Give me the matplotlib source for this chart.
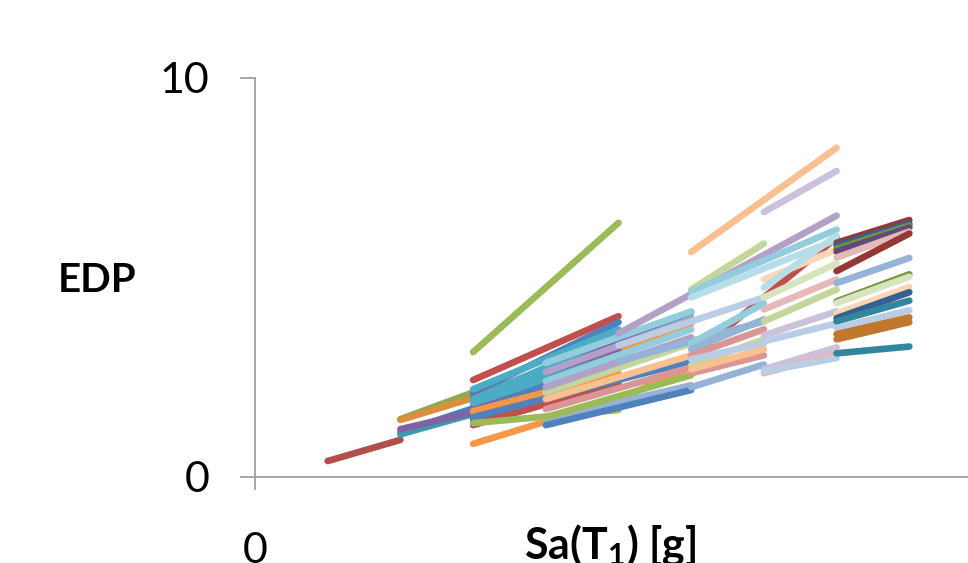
import matplotlib
matplotlib.use("Agg")
import matplotlib.pyplot as plt

plt.rcParams["font.family"] = ["Lato", "DejaVu Sans"]
plt.rcParams["mathtext.fontset"] = "custom"
plt.rcParams["mathtext.rm"] = "Lato"
plt.rcParams["mathtext.bf"] = "Lato:bold"

# Excel-2007 палитра (основные, тёмные, светлые, очень светлые оттенки)
B, R, G, P, A, O = "#4F81BD", "#C0504D", "#9BBB59", "#8064A2", "#4BACC6", "#F79646"
DB, DR, DG, DP, DA, DO = "#376092", "#953735", "#77933C", "#604A7B", "#31859C", "#C0782E"
LB, LR, LG, LP, LA, LO = "#95B3D7", "#D99694", "#C3D69B", "#B2A1C7", "#93CDDD", "#FAC090"
LLB, LLR, LLG, LLP, LLA, LLO = "#B9CDE5", "#E6B9B8", "#D7E4BD", "#CCC1DA", "#B7DEE8", "#FCD5B5"

# IDA-кривые: Sa(T1) [g] -> EDP
series_sa = [
    [0.1, 0.2],
    [0.2, 0.3], [0.2, 0.3], [0.2, 0.3], [0.2, 0.3], [0.2, 0.3],
    [0.6, 0.8],
    [0.3, 0.5], [0.3, 0.5], [0.3, 0.5], [0.3, 0.6], [0.3, 0.6], [0.3, 0.6],
    [0.3, 0.5], [0.3, 0.5], [0.3, 0.5], [0.3, 0.5], [0.3, 0.5], [0.3, 0.5],
    [0.3, 0.5], [0.3, 0.5], [0.3, 0.5], [0.3, 0.5], [0.3, 0.6],
    [0.3, 0.5], [0.3, 0.5, 0.6],
    [0.4, 0.6], [0.4, 0.6], [0.4, 0.6], [0.4, 0.6], [0.4, 0.6], [0.4, 0.6],
    [0.4, 0.6], [0.4, 0.6], [0.4, 0.6], [0.4, 0.6],
    [0.5, 0.8], [0.5, 0.7], [0.5, 0.7],
    [0.6, 0.7], [0.6, 0.7], [0.6, 0.7], [0.6, 0.7], [0.6, 0.7], [0.6, 0.7],
    [0.6, 0.7], [0.6, 0.7],
    [0.6, 0.8], [0.6, 0.7], [0.6, 0.8], [0.6, 0.8],
    [0.7, 0.8], [0.7, 0.8], [0.7, 0.8], [0.7, 0.8], [0.7, 0.8], [0.7, 0.8],
    [0.7, 0.8], [0.7, 0.8], [0.7, 0.8], [0.7, 0.8], [0.7, 0.8],
    [0.8, 0.9], [0.8, 0.9], [0.8, 0.9], [0.8, 0.9], [0.8, 0.9], [0.8, 0.9],
    [0.8, 0.9], [0.8, 0.9], [0.8, 0.9], [0.8, 0.9], [0.8, 0.9], [0.8, 0.9],
    [0.8, 0.9], [0.8, 0.9], [0.8, 0.9], [0.8, 0.9],
]
series_edp = [
    [0.40, 0.93],
    [1.45, 2.12], [1.43, 1.98], [1.12, 1.72], [1.07, 1.58], [1.20, 1.62],
    [3.00, 6.00],
    [3.13, 6.37], [2.43, 4.03], [2.10, 3.88], [2.00, 4.13], [1.90, 3.98], [1.70, 3.85],
    [1.95, 3.55], [1.75, 3.15], [1.55, 2.85], [1.40, 2.55], [1.85, 3.05], [1.30, 2.35],
    [2.20, 3.70], [1.60, 3.00], [1.45, 2.75], [1.65, 2.60], [1.50, 2.90],
    [1.35, 1.68], [0.83, 1.95, 2.75],
    [2.86, 4.15], [2.63, 3.95], [2.40, 3.70], [2.12, 3.35], [1.95, 3.05], [1.70, 2.75],
    [1.45, 2.30], [1.50, 2.55], [1.30, 2.18], [2.25, 3.50],
    [3.60, 6.55], [3.30, 4.50], [2.90, 3.90],
    [3.35, 4.35], [3.20, 3.95], [3.05, 3.70], [2.80, 3.45], [2.60, 3.05], [2.25, 2.82],
    [2.95, 3.35], [2.70, 3.20],
    [5.64, 8.25], [4.70, 5.85], [4.65, 6.20], [4.50, 5.95],
    [6.64, 7.67], [4.95, 5.70], [4.50, 5.35], [4.20, 4.95], [3.90, 4.70], [3.55, 4.15],
    [3.40, 3.85], [2.70, 3.25], [2.60, 3.10], [2.65, 2.98], [4.75, 6.05],
    [5.87, 6.44], [5.80, 6.35], [5.72, 6.30], [5.65, 6.25], [5.50, 6.15], [5.16, 6.10],
    [4.86, 5.49], [4.40, 5.08], [4.36, 5.02], [4.10, 4.76], [3.98, 4.63], [3.90, 4.42],
    [3.73, 4.18], [3.58, 4.00], [3.45, 3.88], [3.10, 3.27],
]
series_color = [
    "#B14E49",
    "#8FAA52", "#D98F3D", "#4A7EBB", "#3B9AB0", P,
    R,
    G, R, B, P, A, O,
    A, P, B, R, A, R,
    A, B, P, O, B,
    G, O,
    LA, LP, LA, LG, LO, LR,
    LB, G, B, LP,
    LP, LLB, LB,
    LA, LB, LR, LG, LR, LB,
    LLB, LO,
    LO, LG, LA, LLA,
    LLP, LLO, LLG, LLR, LG, LLP,
    LLB, LLP, LLR, LLB, LLA,
    DR, DB, DG, DP, LLR, DR,
    LB, DG, LLG, LLO, DB, DA,
    LLB, DO, DO, DA,
]

W, H = 968, 563
fig = plt.figure(figsize=(W / 100, H / 100), dpi=100)
# ось Y на x=255px, ось X на y=477px, 0.1 g = 72.7px
x0, y0, ytop = 255, 477, 78
ax = fig.add_axes([x0 / W, (H - y0) / H, (W - x0) / W, (y0 - ytop) / H])

for sa, edp, c in zip(series_sa, series_edp, series_color):
    ax.plot(sa, edp, color=c, lw=4.8, solid_capstyle="round", clip_on=False)

ax.set_xlim(0, (W - x0) / 727)
ax.set_ylim(0, 10)
ax.set_xticks([0])
ax.set_yticks([0, 10])
ax.set_xticklabels(["0"])
ax.set_yticklabels(["0", "10"])

for side in ["top", "right"]:
    ax.spines[side].set_visible(False)
for side in ["left", "bottom"]:
    ax.spines[side].set_color("#A0A0A0")
    ax.spines[side].set_linewidth(1.3)

ax.tick_params(axis="y", length=11, width=1.3, color="#A0A0A0", pad=22, labelsize=31)
ax.tick_params(axis="x", length=9.5, width=1.3, color="#A0A0A0", pad=30, labelsize=31)

fig.text(97 / W, (H - 281) / H, "EDP", fontsize=29, fontweight="bold",
         ha="center", va="center")
fig.text(610 / W, (H - 558) / H, r"Sa(T$_\mathbf{1}$) [g]", fontsize=31,
         fontweight="bold", ha="center", va="baseline")

fig.savefig("out.png", dpi=100)
